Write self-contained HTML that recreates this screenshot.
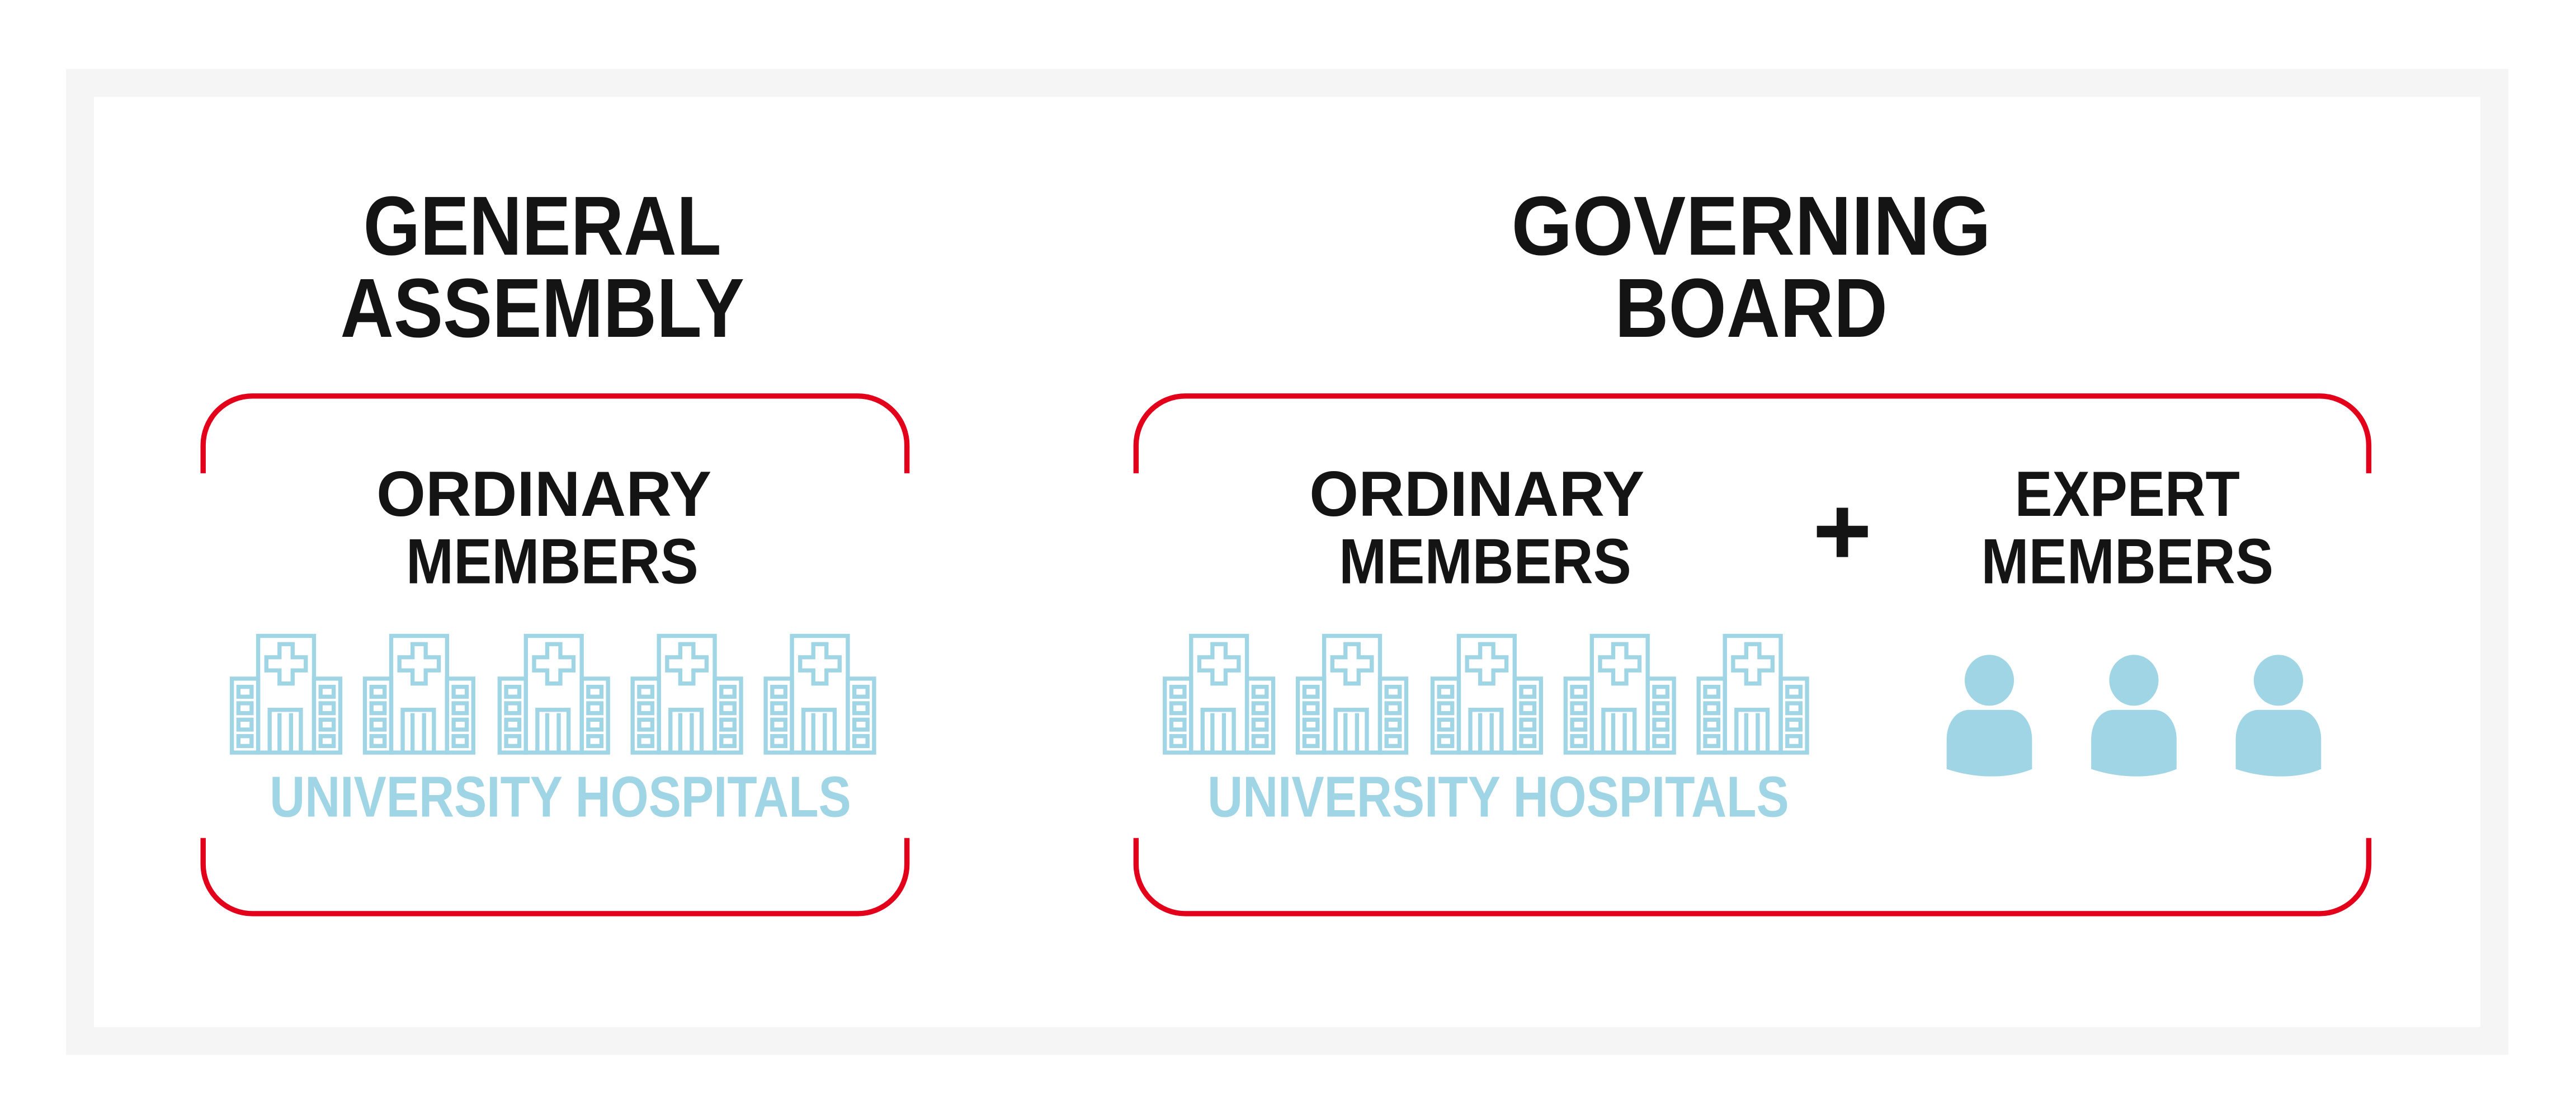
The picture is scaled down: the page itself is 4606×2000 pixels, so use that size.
<!DOCTYPE html>
<html><head><meta charset="utf-8"><style>html,body{margin:0;padding:0;background:#fff}svg{display:block}</style></head>
<body>
<svg width="4606" height="2000" viewBox="0 0 1568 681" xmlns="http://www.w3.org/2000/svg">
<defs>
<g id="hosp" fill="none" stroke="#9fd5e5" stroke-width="2.5">
<rect x="1" y="27" width="16" height="45"/>
<rect x="51" y="27" width="16" height="45"/>
<rect x="17" y="1" width="34" height="71"/>
<path d="M30 6h8v8h8v8h-8v8h-8v-8h-8v-8h8z"/>
<path d="M24 72V46h19v26M30 48v24M37 48v24"/>
<rect x="5" y="32" width="8" height="6"/><rect x="5" y="42" width="8" height="6"/><rect x="5" y="52" width="8" height="6"/><rect x="5" y="62" width="8" height="6"/>
<rect x="55" y="32" width="8" height="6"/><rect x="55" y="42" width="8" height="6"/><rect x="55" y="52" width="8" height="6"/><rect x="55" y="62" width="8" height="6"/>
</g>
<g id="person" fill="#9fd5e5">
<ellipse cx="0" cy="414" rx="15" ry="15.5"/>
<path d="M-12 432h24c9 0 14 9 14 18v18c-14 6-34 6-52 0v-18c0-9 5-18 14-18z"/>
</g>
</defs>
<rect x="0" y="0" width="1568" height="681" fill="#fff"/>
<rect x="48.5" y="50.5" width="1470" height="583" fill="#fff" stroke="#f5f5f5" stroke-width="17"/>
<g fill="none" stroke="#e2001a" stroke-width="3.2">
<path d="M123.5 288V271a30 30 0 0 1 30-30H522a30 30 0 0 1 30 30V288"/>
<path d="M123.5 510V526a30 30 0 0 0 30 30H522a30 30 0 0 0 30-30V510"/>
<path d="M691.5 288V271a30 30 0 0 1 30-30H1412a30 30 0 0 1 30 30V288"/>
<path d="M691.5 510V526a30 30 0 0 0 30 30H1412a30 30 0 0 0 30-30V510"/>
</g>
<g font-family="Liberation Sans, sans-serif" font-weight="bold" fill="#141414" text-anchor="middle">
<text x="330" y="155" font-size="51" textLength="218" lengthAdjust="spacingAndGlyphs">GENERAL</text>
<text x="330" y="205" font-size="51" textLength="246" lengthAdjust="spacingAndGlyphs">ASSEMBLY</text>
<text x="1066" y="155" font-size="51" textLength="292" lengthAdjust="spacingAndGlyphs">GOVERNING</text>
<text x="1066" y="205" font-size="51" textLength="166" lengthAdjust="spacingAndGlyphs">BOARD</text>
<text x="331" y="314" font-size="39" textLength="204" lengthAdjust="spacingAndGlyphs">ORDINARY</text>
<text x="336" y="355" font-size="39" textLength="178" lengthAdjust="spacingAndGlyphs">MEMBERS</text>
<text x="899" y="314" font-size="39" textLength="204" lengthAdjust="spacingAndGlyphs">ORDINARY</text>
<text x="904" y="355" font-size="39" textLength="178" lengthAdjust="spacingAndGlyphs">MEMBERS</text>
<text x="1295" y="314" font-size="39" textLength="137" lengthAdjust="spacingAndGlyphs">EXPERT</text>
<text x="1295" y="355" font-size="39" textLength="178" lengthAdjust="spacingAndGlyphs">MEMBERS</text>
</g>
<path d="M1118 309h7v11h12v7h-12v12h-7v-12h-12v-7h12z" fill="#141414"/>
<g font-family="Liberation Sans, sans-serif" font-weight="bold" fill="#9fd5e5" text-anchor="middle">
<text x="341" y="497" font-size="35" textLength="354" lengthAdjust="spacingAndGlyphs">UNIVERSITY HOSPITALS</text>
<text x="912" y="497" font-size="35" textLength="354" lengthAdjust="spacingAndGlyphs">UNIVERSITY HOSPITALS</text>
</g>
<use href="#hosp" x="140" y="386"/><use href="#hosp" x="221" y="386"/><use href="#hosp" x="303" y="386"/><use href="#hosp" x="384" y="386"/><use href="#hosp" x="465" y="386"/>
<use href="#hosp" x="708" y="386"/><use href="#hosp" x="789" y="386"/><use href="#hosp" x="871" y="386"/><use href="#hosp" x="952" y="386"/><use href="#hosp" x="1033" y="386"/>
<use href="#person" x="1211" y="0"/><use href="#person" x="1299" y="0"/><use href="#person" x="1387" y="0"/>
</svg>
</body></html>
